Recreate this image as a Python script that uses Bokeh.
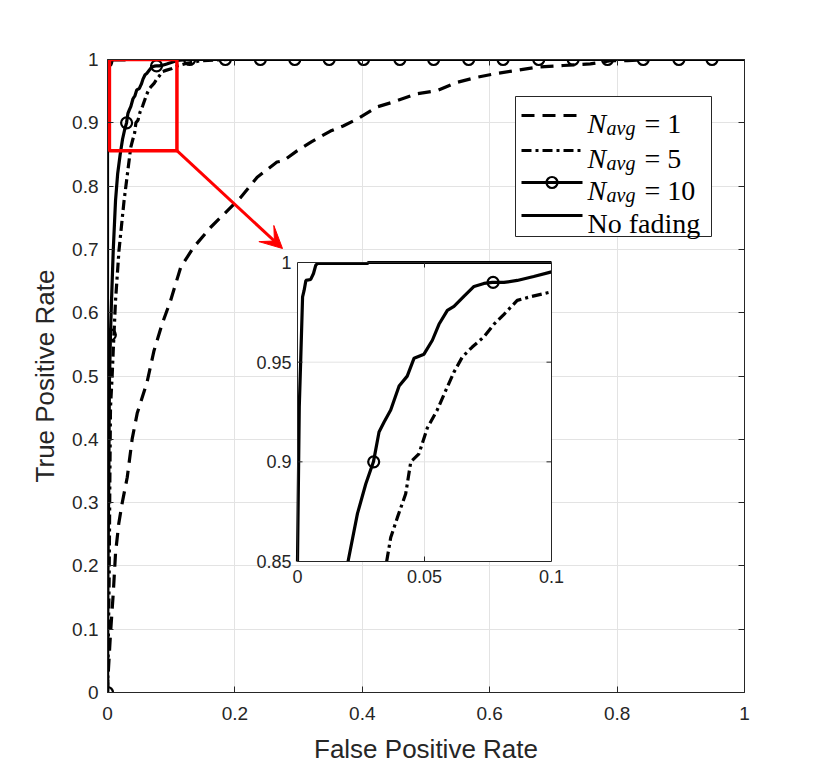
import math
from bokeh.plotting import figure
from bokeh.models import Range1d, FixedTicker, LinearAxis, Arrow, VeeHead
from bokeh.core.properties import value
from bokeh.embed import file_html
from bokeh.resources import INLINE

# ---------------- data ----------------
fpr_nofade = [0, 0, 0.0007, 0.0013, 0.0020, 0.0026, 0.0033, 0.0052, 0.0063, 0.0072, 0.0079,
              0.0275, 0.0280, 1.0]
tpr_nofade = [0, 0.85, 0.9275, 0.9526, 0.9828, 0.9860, 0.9910, 0.9915, 0.9945, 0.9987, 0.9995,
              0.9995, 1.0, 1.0]

fpr_n10 = [0, 0.0005, 0.0020, 0.0030, 0.0047, 0.0063, 0.0090, 0.0126, 0.0160, 0.0199, 0.0236,
           0.0269, 0.0299, 0.0321, 0.0341, 0.0367, 0.0400, 0.0432, 0.0459, 0.0498, 0.0531,
           0.0557, 0.0590, 0.0616, 0.0655, 0.0695, 0.0734, 0.0767, 0.0813, 0.0865, 0.0930,
           0.1000, 0.1090, 0.1290, 1.0]
tpr_n10 = [0, 0.177, 0.335, 0.488, 0.567, 0.619, 0.698, 0.777, 0.820, 0.850, 0.874,
           0.889, 0.900, 0.915, 0.920, 0.926, 0.938, 0.943, 0.952, 0.954, 0.961,
           0.969, 0.976, 0.978, 0.983, 0.988, 0.9895, 0.990, 0.990, 0.991, 0.993,
           0.9953, 0.9985, 1.0, 1.0]
marker_fpr_n10 = [0, 0.0045, 0.030, 0.077, 0.129, 0.185, 0.240, 0.294, 0.348, 0.402, 0.459,
                  0.512, 0.567, 0.621, 0.677, 0.731, 0.785, 0.841, 0.897, 0.949]
marker_tpr_n10 = [0, 0.565, 0.900, 0.990, 1, 1, 1, 1, 1, 1, 1,
                  1, 1, 1, 1, 1, 1, 1, 1, 1]

fpr_n5 = [0, 0.0005, 0.0026, 0.0037, 0.0047, 0.0073, 0.0090, 0.0126, 0.0180, 0.0260, 0.0351,
          0.0367, 0.0393, 0.0426, 0.0446, 0.0478, 0.0511, 0.0550, 0.0590, 0.0616, 0.0649,
          0.0688, 0.0734, 0.0773, 0.0813, 0.0865, 0.0917, 0.1000, 0.110, 0.125, 0.146, 0.190, 1.0]
tpr_n5 = [0, 0.020, 0.177, 0.335, 0.450, 0.500, 0.540, 0.619, 0.698, 0.777, 0.850,
          0.862, 0.872, 0.884, 0.900, 0.904, 0.917, 0.926, 0.9376, 0.945, 0.9526,
          0.9576, 0.9627, 0.969, 0.974, 0.981, 0.9828, 0.9853, 0.990, 0.994, 0.998, 1.0, 1.0]

fpr_n1 = [0, 0.0005, 0.0047, 0.0090, 0.0126, 0.0177, 0.0230, 0.0310, 0.0388, 0.0466, 0.062,
          0.073, 0.086, 0.099, 0.115, 0.135, 0.162, 0.188, 0.209, 0.235, 0.266, 0.276, 0.298,
          0.320, 0.350, 0.370, 0.392, 0.423, 0.449, 0.486, 0.518, 0.549, 0.580, 0.606, 0.643,
          0.675, 0.716, 0.758, 0.790, 0.816, 0.852, 1.0]
tpr_n1 = [0, 0.019, 0.093, 0.156, 0.220, 0.267, 0.299, 0.340, 0.401, 0.441, 0.490,
          0.540, 0.583, 0.619, 0.672, 0.703, 0.735, 0.761, 0.782, 0.814, 0.838, 0.840, 0.856,
          0.870, 0.887, 0.895, 0.906, 0.925, 0.933, 0.946, 0.951, 0.964, 0.972, 0.977, 0.983,
          0.988, 0.9905, 0.993, 0.998, 0.998, 1.0, 1.0]

x_ticks = [0, 0.2, 0.4, 0.6, 0.8, 1.0]
x_tick_labels = ["0", "0.2", "0.4", "0.6", "0.8", "1"]
y_ticks = [0, 0.1, 0.2, 0.3, 0.4, 0.5, 0.6, 0.7, 0.8, 0.9, 1.0]
y_tick_labels = ["0", "0.1", "0.2", "0.3", "0.4", "0.5", "0.6", "0.7", "0.8", "0.9", "1"]

inset_x_ticks = [0, 0.05, 0.1]
inset_x_tick_labels = ["0", "0.05", "0.1"]
inset_y_ticks = [0.85, 0.9, 0.95, 1.0]
inset_y_tick_labels = ["0.85", "0.9", "0.95", "1"]
inset_x_window = (0.0, 0.1)
inset_y_window = (0.85, 1.0)
zoom_box = (0.003, 0.109, 0.856, 1.0)   # left, right, bottom, top of red box

x_label = "False Positive Rate"
y_label = "True Positive Rate"

# ---------------- layout constants (pixels) ----------------
W, H = 823, 780
FL, FR, FT, FB = 107, 744, 59, 692          # main frame
IL, IR, IT, IB = 297, 551, 262, 561          # inset frame
AX = "#262626"
GRID = "#e3e3e3"
SANS_NAME = "Liberation Sans"
SANS = value(SANS_NAME)
SERIF = value("Liberation Serif")
TICK_FS = "19px"
LEG_FS = "28px"


def fx(px):
    return (px - FL) / (FR - FL)


def fy(py):
    return (FB - py) / (FB - FT)


p = figure(width=W, height=H, output_backend="svg", toolbar_location=None,
           x_range=Range1d(0, 1), y_range=Range1d(0, 1),
           min_border_left=FL, min_border_right=W - FR,
           min_border_top=FT, min_border_bottom=H - FB)
p.background_fill_color = "white"
p.border_fill_color = "white"
p.outline_line_color = None

xt = FixedTicker(ticks=x_ticks)
yt = FixedTicker(ticks=y_ticks)
for ax in (p.xaxis[0], p.yaxis[0]):
    ax.axis_line_color = AX
    ax.major_tick_line_color = AX
    ax.major_tick_in = 6
    ax.major_tick_out = 0
    ax.minor_tick_line_color = None
    ax.major_label_text_font = SANS_NAME
    ax.major_label_text_font_size = TICK_FS
    ax.major_label_text_color = AX
    ax.axis_label_text_font = SANS_NAME
    ax.axis_label_text_font_size = "26px"
    ax.axis_label_text_font_style = "normal"
    ax.axis_label_text_color = AX
p.xaxis[0].ticker = xt
p.yaxis[0].ticker = yt
p.xaxis[0].major_label_overrides = dict(zip(x_ticks, x_tick_labels))
p.yaxis[0].major_label_overrides = dict(zip(y_ticks, y_tick_labels))
p.xaxis[0].axis_label = x_label
p.yaxis[0].axis_label = y_label
p.xaxis[0].major_label_standoff = 14
p.xaxis[0].axis_label_standoff = 11
p.yaxis[0].major_label_standoff = 9
p.yaxis[0].axis_label_standoff = 9

for side, ticks in (("above", x_ticks), ("right", y_ticks)):
    a = LinearAxis(ticker=FixedTicker(ticks=ticks), axis_line_color=AX,
                   major_tick_line_color=AX, major_tick_in=6, major_tick_out=0,
                   minor_tick_line_color=None,
                   major_label_overrides={t: "" for t in ticks},
                   major_label_standoff=0)
    p.add_layout(a, side)

p.xgrid.ticker = xt
p.ygrid.ticker = yt
p.xgrid.grid_line_color = GRID
p.ygrid.grid_line_color = GRID

# ---------------- main curves ----------------
LW = 3.2
MS = 11
p.line(fpr_n1, tpr_n1, line_color="black", line_width=LW, line_dash="13 8")
p.line(fpr_n5, tpr_n5, line_color="black", line_width=LW, line_dash="10 4 3 4")
p.line(fpr_n10, tpr_n10, line_color="black", line_width=LW)
p.scatter(marker_fpr_n10, marker_tpr_n10, marker="circle", size=MS, fill_color=None,
          line_color="black", line_width=2.2)
p.line(fpr_nofade, tpr_nofade, line_color="black", line_width=LW)

# ---------------- legend (drawn manually for subscripts) ----------------
p.quad(left=[fx(515)], right=[fx(711)], top=[fy(96)], bottom=[fy(236)],
       fill_color="white", line_color=AX, line_width=1)
rows = [115, 150, 182, 215]
legend_specs = [("1", "13 8", False), ("5", "10 4 3 4", False), ("10", "solid", True)]
for (num, dash, mk), ry in zip(legend_specs, rows[:3]):
    p.line([fx(521), fx(582)], [fy(ry), fy(ry)], line_color="black", line_width=LW,
           line_dash=dash)
    if mk:
        p.scatter([fx(551.5)], [fy(ry)], marker="circle", size=MS, fill_color=None,
                  line_color="black", line_width=2.2)
    p.text([fx(587)], [fy(ry + 8)], text=["N"], text_font=SERIF, text_font_style="italic",
           text_font_size=LEG_FS, text_baseline="alphabetic", text_align="left",
           text_color="black")
    p.text([fx(606)], [fy(ry + 12)], text=["avg"], text_font=SERIF, text_font_style="italic",
           text_font_size="20px", text_baseline="alphabetic", text_align="left",
           text_color="black")
    p.text([fx(644)], [fy(ry + 8)], text=["= " + num], text_font=SERIF,
           text_font_size=LEG_FS, text_baseline="alphabetic", text_align="left",
           text_color="black")
ry = rows[3]
p.line([fx(521), fx(582)], [fy(ry), fy(ry)], line_color="black", line_width=LW)
p.text([fx(587)], [fy(ry + 8)], text=["No fading"], text_font=SERIF,
       text_font_size=LEG_FS, text_baseline="alphabetic", text_align="left",
       text_color="black")

# ---------------- zoom box + arrow ----------------
zl, zr, zb, ztop = zoom_box
p.quad(left=[zl], right=[zr], bottom=[zb], top=[ztop], fill_color=None,
       line_color="red", line_width=3.5)
p.add_layout(Arrow(end=VeeHead(size=22, fill_color="red", line_color="red"),
                   x_start=zr, y_start=zb, x_end=fx(282), y_end=fy(248),
                   line_color="red", line_width=3))

# ---------------- inset (extra ranges mapped onto inset pixel box) ----------------
x0, x1 = inset_x_window
y0, y1 = inset_y_window
sxp = (x1 - x0) / (IR - IL)
syp = (y1 - y0) / (IB - IT)
p.extra_x_ranges = {"ix": Range1d(x0 - (IL - FL) * sxp, x1 + (FR - IR) * sxp)}
p.extra_y_ranges = {"iy": Range1d(y0 - (FB - IB) * syp, y1 + (IT - FT) * syp)}
R = dict(x_range_name="ix", y_range_name="iy")


def clip_to_window(xs, ys):
    nan = float("nan")
    ox, oy, last = [], [], None
    for i in range(len(xs) - 1):
        ax_, ay_, bx_, by_ = xs[i], ys[i], xs[i + 1], ys[i + 1]
        dx, dy = bx_ - ax_, by_ - ay_
        t0, t1, ok = 0.0, 1.0, True
        for pp, qq in ((-dx, ax_ - x0), (dx, x1 - ax_), (-dy, ay_ - y0), (dy, y1 - ay_)):
            if pp == 0:
                if qq < 0:
                    ok = False
                    break
            else:
                t = qq / pp
                if pp < 0:
                    t0 = max(t0, t)
                else:
                    t1 = min(t1, t)
        if not ok or t0 > t1:
            continue
        sx_, sy_ = ax_ + t0 * dx, ay_ + t0 * dy
        ex_, ey_ = ax_ + t1 * dx, ay_ + t1 * dy
        if last is None or abs(last[0] - sx_) > 1e-12 or abs(last[1] - sy_) > 1e-12:
            if ox:
                ox.append(nan)
                oy.append(nan)
            ox.append(sx_)
            oy.append(sy_)
        ox.append(ex_)
        oy.append(ey_)
        last = (ex_, ey_)
    return ox, oy


p.quad(left=[x0], right=[x1], bottom=[y0], top=[y1], fill_color="white", line_color=None, **R)
gx = [t for t in inset_x_ticks if x0 < t < x1]
gy = [t for t in inset_y_ticks if y0 < t < y1]
p.segment(x0=gx, y0=[y0] * len(gx), x1=gx, y1=[y1] * len(gx), line_color=GRID, line_width=1, **R)
p.segment(x0=[x0] * len(gy), y0=gy, x1=[x1] * len(gy), y1=gy, line_color=GRID, line_width=1, **R)

cx, cy = clip_to_window(fpr_n5, tpr_n5)
p.line(cx, cy, line_color="black", line_width=LW, line_dash="10 4 3 4", **R)
cx, cy = clip_to_window(fpr_n10, tpr_n10)
p.line(cx, cy, line_color="black", line_width=LW, **R)
mxi = [mx for mx, my in zip(marker_fpr_n10, marker_tpr_n10) if x0 <= mx <= x1 and y0 <= my <= y1]
myi = [my for mx, my in zip(marker_fpr_n10, marker_tpr_n10) if x0 <= mx <= x1 and y0 <= my <= y1]
p.scatter(mxi, myi, marker="circle", size=MS, fill_color=None, line_color="black",
          line_width=2.2, **R)
cx, cy = clip_to_window(fpr_nofade, tpr_nofade)
p.line(cx, cy, line_color="black", line_width=LW, **R)

# inset frame and inward ticks
TL = 5
p.quad(left=[x0], right=[x1], bottom=[y0], top=[y1], fill_color=None, line_color=AX,
       line_width=1, **R)
p.segment(x0=gx + gx, y0=[y0] * len(gx) + [y1] * len(gx), x1=gx + gx,
          y1=[y0 + TL * syp] * len(gx) + [y1 - TL * syp] * len(gx), line_color=AX, **R)
p.segment(x0=[x0] * len(gy) + [x1] * len(gy), y0=gy + gy,
          x1=[x0 + TL * sxp] * len(gy) + [x1 - TL * sxp] * len(gy), y1=gy + gy,
          line_color=AX, **R)
p.text(inset_x_ticks, [y0] * len(inset_x_ticks), text=inset_x_tick_labels, text_font=SANS,
       text_font_size="18px", text_color=AX, text_align="center", text_baseline="top",
       y_offset=8, **R)
p.text([x0] * len(inset_y_ticks), inset_y_ticks, text=inset_y_tick_labels, text_font=SANS,
       text_font_size="18px", text_color=AX, text_align="right", text_baseline="middle",
       x_offset=-6, **R)

open("out.html", "w").write(file_html(p, INLINE))
